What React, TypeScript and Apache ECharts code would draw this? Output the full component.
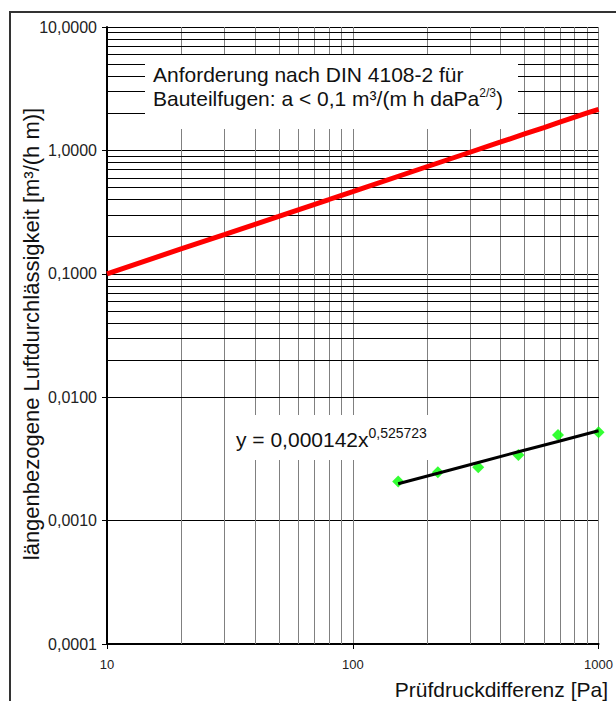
import React, { useEffect, useRef } from "react";
import * as echarts from "echarts";

// Requirement line DIN 4108-2 (a = 0,1 m³/(m h daPa^2/3))
const reqPressure = [10, 20, 30, 40, 50, 60, 70, 80, 90, 100, 200, 300, 400, 500, 600, 700, 800, 900, 1000];
const reqLeakage = [0.1, 0.159, 0.208, 0.252, 0.292, 0.33, 0.366, 0.4, 0.433, 0.464, 0.737, 0.966, 1.17, 1.36, 1.53, 1.7, 1.86, 2.01, 2.15];

// Measured points
const measPressure = [153, 222, 324, 472, 684, 1000];
const measLeakage = [0.00207, 0.00246, 0.0027, 0.0034, 0.00494, 0.0052];

// Power trend line y = 0,000142 x^0,525723
const trendLeakage = [0.00199, 0.00242, 0.00296, 0.00361, 0.00438, 0.00535];

// Minor grid positions
const minorX = [20, 30, 40, 50, 60, 70, 80, 90, 200, 300, 400, 500, 600, 700, 800, 900];
const minorY = [
  0.0002, 0.0003, 0.0004, 0.0005, 0.0006, 0.0007, 0.0008, 0.0009,
  0.002, 0.003, 0.004, 0.005, 0.006, 0.007, 0.008, 0.009,
  0.02, 0.03, 0.04, 0.05, 0.06, 0.07, 0.08, 0.09,
  0.2, 0.3, 0.4, 0.5, 0.6, 0.7, 0.8, 0.9,
  2, 3, 4, 5, 6, 7, 8, 9,
];

const FONT = "Liberation Sans, Arial, sans-serif";

export default function App() {
  const ref = useRef<HTMLDivElement>(null);

  useEffect(() => {
    if (!ref.current) return;
    const chart = echarts.init(ref.current, null, { renderer: "svg" });
    const option: any = {
      animation: false,
      backgroundColor: "#ffffff",
      textStyle: { fontFamily: FONT },
      grid: { left: 107, top: 27, right: 16, bottom: 57, containLabel: false },
      xAxis: {
        type: "log",
        logBase: 10,
        min: 10,
        max: 1000,
        axisLine: { show: true, onZero: false, lineStyle: { color: "#000", width: 2 } },
        axisTick: { show: true, length: 5, lineStyle: { color: "#000" } },
        axisLabel: {
          color: "#222",
          fontSize: 13,
          fontFamily: FONT,
          margin: 14,
          formatter: (v: number) => String(Math.round(v)),
        },
        splitLine: { show: true, lineStyle: { color: "#808080", width: 1 } },
      },
      yAxis: {
        type: "log",
        logBase: 10,
        min: 0.0001,
        max: 10,
        axisLine: { show: true, onZero: false, lineStyle: { color: "#000", width: 2 } },
        axisTick: { show: true, length: 5, lineStyle: { color: "#000" } },
        axisLabel: {
          color: "#222",
          fontSize: 16,
          fontFamily: FONT,
          margin: 10,
          formatter: (v: number) => v.toFixed(4).replace(".", ","),
        },
        splitLine: { show: true, lineStyle: { color: "#000", width: 1 } },
      },
      series: [
        {
          type: "line",
          data: [],
          z: 1,
          silent: true,
          markLine: {
            silent: true,
            symbol: ["none", "none"],
            label: { show: false },
            animation: false,
            data: [
              ...minorX.map((x) => ({ xAxis: x, lineStyle: { color: "#808080", width: 1, type: "solid" } })),
              ...minorY.map((y) => ({ yAxis: y, lineStyle: { color: "#000", width: 1, type: "solid" } })),
            ],
          },
        },
        {
          type: "line",
          name: "Anforderung",
          data: reqPressure.map((p, i) => [p, reqLeakage[i]]),
          showSymbol: false,
          lineStyle: { color: "#ff0000", width: 5 },
          z: 5,
        },
        {
          type: "line",
          name: "Trend",
          data: measPressure.map((p, i) => [p, trendLeakage[i]]),
          showSymbol: false,
          lineStyle: { color: "#000", width: 3 },
          z: 6,
        },
        {
          type: "scatter",
          name: "Messwerte",
          data: measPressure.map((p, i) => [p, measLeakage[i]]),
          symbol: "diamond",
          symbolSize: 12,
          itemStyle: { color: "#00ff00" },
          z: 5,
        },
      ],
      graphic: [
        {
          type: "rect",
          z: 100,
          shape: { x: 10, y: 12, width: 700, height: 800 },
          style: { fill: "none", stroke: "#333", lineWidth: 2 },
          silent: true,
        },
        {
          type: "text",
          z: 51,
          x: 31,
          y: 334,
          rotation: Math.PI / 2,
          style: {
            text: "längenbezogene Luftdurchlässigkeit [m³/(h m)]",
            fontSize: 22,
            fontFamily: FONT,
            fill: "#111",
            align: "center",
            verticalAlign: "middle",
          },
        },
        {
          type: "rect",
          z: 50,
          shape: { x: 145, y: 55, width: 373, height: 74 },
          style: { fill: "#fff" },
          silent: true,
        },
        {
          type: "text",
          z: 51,
          x: 153,
          y: 74,
          style: {
            text: "Anforderung nach DIN 4108-2 für",
            fontSize: 21,
            fontFamily: FONT,
            fill: "#111",
            verticalAlign: "middle",
          },
        },
        {
          type: "text",
          z: 51,
          x: 153,
          y: 98,
          style: {
            text: "{a|Bauteilfugen: a < 0,1 m³/(m h daPa}{s|2/3}{a|)}",
            verticalAlign: "middle",
            rich: {
              a: { fontSize: 21, fontFamily: FONT, fill: "#111", color: "#111" },
              s: { fontSize: 12, fontFamily: FONT, fill: "#111", color: "#111", verticalAlign: "top", padding: [0, 0, 10, 0] },
            },
          },
        },
        {
          type: "rect",
          z: 50,
          shape: { x: 232, y: 415, width: 206, height: 45 },
          style: { fill: "#fff" },
          silent: true,
        },
        {
          type: "text",
          z: 51,
          x: 236,
          y: 439,
          style: {
            text: "{a|y = 0,000142x}{s|0,525723}",
            verticalAlign: "middle",
            rich: {
              a: { fontSize: 21, fontFamily: FONT, fill: "#111", color: "#111" },
              s: { fontSize: 14, fontFamily: FONT, fill: "#111", color: "#111", verticalAlign: "top", padding: [0, 0, 12, 0] },
            },
          },
        },
        {
          type: "text",
          z: 51,
          x: 608,
          y: 689,
          style: {
            text: "Prüfdruckdifferenz [Pa]",
            fontSize: 21,
            fontFamily: FONT,
            fill: "#111",
            align: "right",
            verticalAlign: "middle",
          },
        },
      ],
    };
    chart.setOption(option);
    return () => chart.dispose();
  }, []);

  return (
    <div
      ref={ref}
      style={{ position: "fixed", left: 0, top: 0, width: 616, height: 701, background: "#fff" }}
    />
  );
}
